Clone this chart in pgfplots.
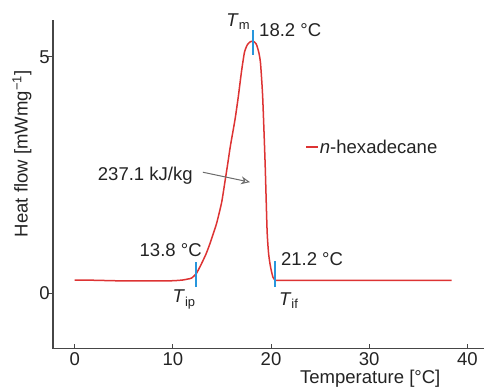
\documentclass[border=0pt]{standalone}
\usepackage{pgfplots}
\pgfplotsset{compat=1.18}
\usetikzlibrary{arrows.meta}
\usepackage{fontspec}
\setmainfont{Liberation Sans}
\definecolor{curvered}{RGB}{221,51,51}
\definecolor{markblue}{RGB}{40,150,220}
\definecolor{axgray}{RGB}{70,70,70}
\definecolor{txt}{RGB}{35,35,35}
\begin{document}
\begin{tikzpicture}[font=\fontsize{18.5bp}{22bp}\selectfont, text=txt]
\begin{axis}[
  at={(0,0)}, anchor=south west,
  x=9.8bp, y=47.2bp,
  xmin=-2.2, xmax=41.7, ymin=-1.17, ymax=5.78,
  clip=false,
  axis lines*=left,
  axis line style={axgray, line width=1.4bp},
  xtick={0,10,20,30,40}, ytick={0,5},
  tick align=inside,
  major tick length=5bp,
  xtick style={axgray, line width=1bp},
  ytick style={axgray, line width=1bp, xshift=-5bp},
  /pgf/number format/assume math mode=true,
  ticklabel style={font=\fontsize{18.5bp}{22bp}\selectfont, text=txt},
  xlabel={Temperature [°C]},
  xlabel style={at={(axis description cs:0.736,-0.0915)}, anchor=center},
  ylabel={Heat flow [mWmg\textsuperscript{−1}]},
  ylabel style={at={(axis description cs:-0.0725,0.593)}, anchor=center},
  legend style={at={(axis description cs:0.585,0.613)}, anchor=west, draw=none, fill=none, inner sep=0pt,
    nodes={inner sep=1bp}, font=\fontsize{18.5bp}{22bp}\selectfont},
  legend cell align=left,
  legend image code/.code={\draw[#1] (0bp,0bp) -- (12bp,0bp);},
]
\addplot[curvered, line width=1.5bp, smooth, tension=0.35] coordinates {
(0,0.28) (2,0.275) (4,0.265) (6,0.26) (8,0.26) (10,0.265) (11,0.28) (11.5,0.30) (11.9,0.32)
(12.4,0.42) (12.93,0.63) (13.4,0.84) (13.78,1.05) (14.1,1.25) (14.46,1.48) (14.97,1.92)
(15.3,2.35) (15.6,2.75) (15.85,3.1) (16.33,3.67) (16.67,4.16) (17.0,4.7) (17.3,5.1)
(17.6,5.26) (17.9,5.32) (18.2,5.33) (18.5,5.27) (18.75,5.1) (18.93,4.87) (19.15,4.16)
(19.4,2.75) (19.6,1.33) (19.75,0.85) (19.9,0.62) (20.05,0.46) (20.2,0.34) (20.4,0.28)
(20.7,0.275) (25,0.275) (30,0.275) (35,0.275) (38.4,0.275)
};
\addlegendentry{\textit{n}-hexadecane}
\addplot[markblue, line width=1.8bp, forget plot] coordinates {(12.35,0.13) (12.35,0.66)};
\addplot[markblue, line width=1.8bp, forget plot] coordinates {(18.2,5.04) (18.2,5.57)};
\addplot[markblue, line width=1.8bp, forget plot] coordinates {(20.4,0.13) (20.4,0.68)};
\node[anchor=base east, inner sep=0pt] at (axis cs:17.9,5.64) {\textit{T}\textsubscript{m}};
\node[anchor=base west, inner sep=0pt] at (axis cs:18.78,5.43) {18.2 °C};
\node[anchor=base east, inner sep=0pt] at (axis cs:12.96,0.77) {13.8 °C};
\node[anchor=base east, inner sep=0pt] at (axis cs:12.35,-0.205) {\textit{T}\textsubscript{ip}};
\node[anchor=base west, inner sep=0pt] at (axis cs:21.0,0.59) {21.2 °C};
\node[anchor=base west, inner sep=0pt] at (axis cs:20.8,-0.25) {\textit{T}\textsubscript{if}};
\node[anchor=base east, inner sep=0pt] at (axis cs:12.04,2.39) {237.1 kJ/kg};
\draw[gray!85!black, line width=1bp, -{Stealth[length=9bp, width=8bp, open]}] (axis cs:13.06,2.56) -- (axis cs:17.86,2.35);
\end{axis}
\pgfresetboundingbox
\path[use as bounding box] (-53bp,-41bp) rectangle (431.2bp,348bp);
\end{tikzpicture}
\end{document}
